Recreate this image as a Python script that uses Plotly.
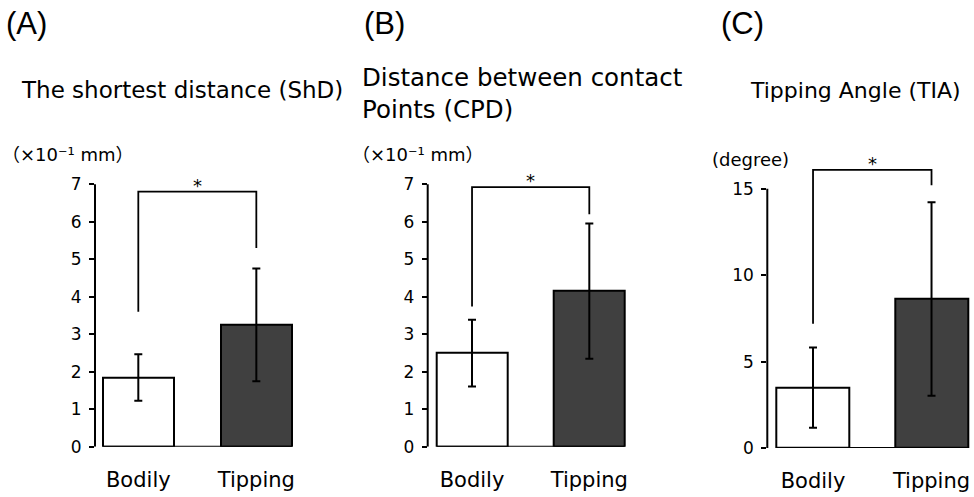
import plotly.graph_objects as go

W, H = 974, 497

categories = ["Bodily", "Tipping"]

# Panel A: shortest distance (x10^-1 mm)
a_mean = [1.85, 3.25]
a_sd = [0.62, 1.50]
a_bracket = [3.6, 6.8, 5.3]   # left leg bottom, top, right leg bottom
a_ticks = [0, 1, 2, 3, 4, 5, 6, 7]

# Panel B: distance between contact points (x10^-1 mm)
b_mean = [2.50, 4.15]
b_sd = [0.89, 1.80]
b_bracket = [3.74, 6.92, 6.2]
b_ticks = [0, 1, 2, 3, 4, 5, 6, 7]

# Panel C: tipping angle (degree)
c_mean = [3.5, 8.63]
c_sd = [2.32, 5.6]
c_bracket = [7.2, 16.1, 15.2]
c_ticks = [0, 5, 10, 15]

panel_letters = ["(A)", "(B)", "(C)"]
panel_titles = ["The shortest distance (ShD)", "Distance between contact<br>Points (CPD)", "Tipping Angle (TIA)"]
unit_labels = ["（×10⁻¹ mm）", "（×10⁻¹ mm）", "(degree)"]

FONT = "DejaVu Sans, Noto Sans CJK JP, sans-serif"
LFONT = "Liberation Sans, Arial, sans-serif"
DARK = "#404040"

fig = go.Figure()

panels = [
    dict(mean=a_mean, sd=a_sd, br=a_bracket, ticks=a_ticks, ymax=7, yr=7.6,
         px_left=95, px_right=300, px_zero=456, px_per=38.29, xr=[-0.367, 1.37], bw=0.603),
    dict(mean=b_mean, sd=b_sd, br=b_bracket, ticks=b_ticks, ymax=7, yr=7.6,
         px_left=427.7, px_right=632.7, px_zero=456, px_per=38.29, xr=[-0.378, 1.37], bw=0.603),
    dict(mean=c_mean, sd=c_sd, br=c_bracket, ticks=c_ticks, ymax=15, yr=17.2,
         px_left=767.3, px_right=971.8, px_zero=457.3, px_per=17.64, xr=[-0.386, 1.34], bw=0.613),
]

for i, p in enumerate(panels):
    n = "" if i == 0 else str(i + 1)
    xa, ya = "x" + n, "y" + n
    fig.add_trace(go.Bar(
        x=[0, 1], y=p["mean"], width=p["bw"],
        marker=dict(color=["white", DARK], line=dict(color="black", width=2)),
        error_y=dict(type="data", array=p["sd"], color="black", thickness=2, width=4),
        xaxis=xa, yaxis=ya, showlegend=False,
    ))
    lb, top, rb = p["br"]
    fig.add_trace(go.Scatter(
        x=[0, 0, 1, 1], y=[lb, top, top, rb], mode="lines",
        line=dict(color="black", width=1.8), xaxis=xa, yaxis=ya, showlegend=False,
    ))
    top_px = p["px_zero"] - p["yr"] * p["px_per"]
    dom_y = [(H - p["px_zero"]) / H, (H - top_px) / H]
    dom_x = [p["px_left"] / W, p["px_right"] / W]
    fig.update_layout(**{
        ("xaxis" + n): dict(domain=dom_x, range=p["xr"], anchor=ya, showline=False,
                            showgrid=False, zeroline=False, ticks="",
                            tickvals=[0, 1], ticktext=categories,
                            tickfont=dict(size=21, color="black", family=FONT),
                            ticklabelstandoff=18),
        ("yaxis" + n): dict(domain=dom_y, range=[0, p["yr"]], anchor=xa, showline=False,
                            showgrid=False, zeroline=False, ticks="outside", ticklen=5,
                            tickwidth=2, tickcolor="black", tickvals=p["ticks"],
                            tickfont=dict(size=17, color="black", family=FONT),
                            ticklabelstandoff=4),
    })
    fig.add_shape(type="line", xref=xa + " domain", yref=ya, x0=0, x1=0, y0=0, y1=p["ymax"],
                  line=dict(color="black", width=2))
    fig.add_shape(type="line", xref=xa, yref=ya, x0=-p["bw"] / 2, x1=1 + p["bw"] / 2, y0=0, y1=0,
                  line=dict(color="black", width=2))
    fig.add_annotation(x=0.5, y=top, xref=xa, yref=ya, text="*", showarrow=False,
                       yanchor="bottom", yshift=-6, font=dict(size=18, color="black", family=FONT))

letter_x = [4, 362, 719]
title_x = [19, 360, 748]
title_y = [92, 95, 92]
title_size = [23, 24.5, 22]
unit_x = [0, 350, 710]
unit_y = [158, 158, 163]
for i in range(3):
    fig.add_annotation(x=letter_x[i] / W, y=(H - 24) / H, xref="paper", yref="paper",
                       text=panel_letters[i], showarrow=False, xanchor="left", yanchor="middle",
                       font=dict(size=31, color="black", family=LFONT))
    fig.add_annotation(x=title_x[i] / W, y=(H - title_y[i]) / H, xref="paper", yref="paper",
                       text=panel_titles[i], showarrow=False, xanchor="left", yanchor="middle",
                       align="left", font=dict(size=title_size[i], color="black", family=FONT))
    fig.add_annotation(x=unit_x[i] / W, y=(H - unit_y[i]) / H, xref="paper", yref="paper",
                       text=unit_labels[i], showarrow=False, xanchor="left", yanchor="middle",
                       font=dict(size=18, color="black", family=FONT))

fig.update_layout(width=W, height=H, margin=dict(l=0, r=0, t=0, b=0),
                  plot_bgcolor="white", paper_bgcolor="white", bargap=0)

fig.write_html("out.html", config={"displayModeBar": False})

# remove default page margin so the figure sits exactly at the window origin
with open("out.html", "r", encoding="utf-8") as f:
    html = f.read()
css = ("<style>html,body{margin:0;padding:0;overflow:hidden;width:974px;height:497px;}"
       "body>div{position:absolute;top:0;left:0;}</style>")
html = html.replace("<head>", "<head>" + css, 1)
with open("out.html", "w", encoding="utf-8") as f:
    f.write(html)
